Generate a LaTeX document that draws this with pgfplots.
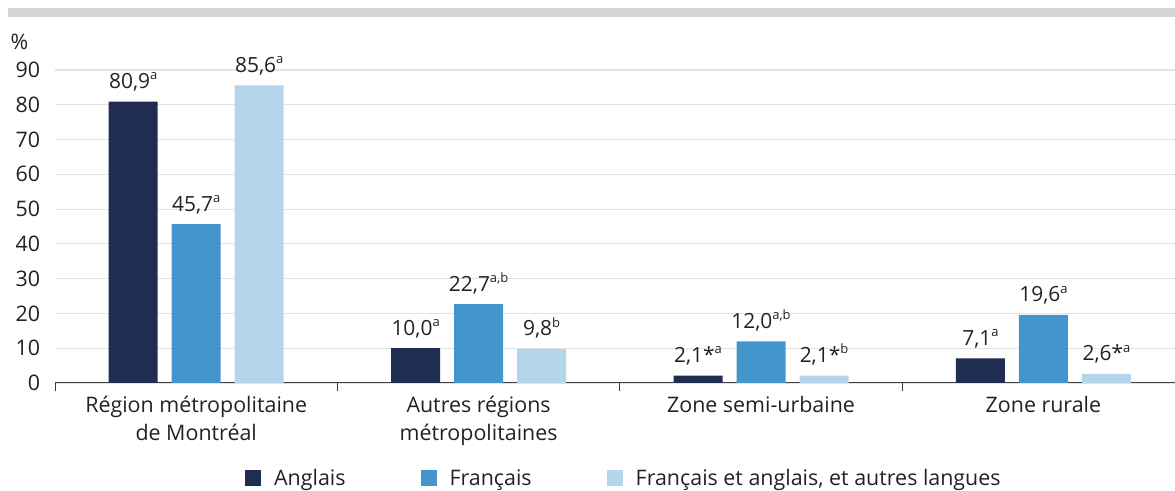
\documentclass[border=0pt]{standalone}
\usepackage{fontspec}
\setmainfont{Open Sans}
\usepackage{pgfplots}
\pgfplotsset{compat=1.18}
\definecolor{cA}{HTML}{1E2D50}
\definecolor{cB}{HTML}{4595CD}
\definecolor{cC}{HTML}{B4D5EA}
\definecolor{gridc}{HTML}{E3E3E3}
\definecolor{topbar}{HTML}{D4D5D5}
\definecolor{axisc}{HTML}{404040}
\definecolor{txt}{HTML}{222222}
\newcommand{\supx}[1]{\raisebox{0.42em}{\fontsize{13}{13}\selectfont #1}}
\newcommand{\fnt}{\fontsize{21.5}{28}\selectfont}
\newcommand{\vfnt}{\fontsize{21}{28}\selectfont}
\begin{document}
\begin{tikzpicture}[x=1bp,y=1bp]
\useasboundingbox (0,0) rectangle (1175,491);
\fill[topbar] (8,474) rectangle (1175,483);
\begin{axis}[
  at={(55bp,108bp)}, anchor=south west,
  scale only axis, width=1120bp, height=313bp,
  xmin=-0.5, xmax=3.466, ymin=0, ymax=90,
  ybar=14bp, bar width=49bp,
  axis x line*=bottom, axis y line*=left,
  x axis line style={-, draw=axisc, line width=1bp},
  y axis line style={draw=none},
  ytick={0,10,...,90},
  ytick style={draw=none},
  ymajorgrids, grid style={draw=gridc, line width=1.2bp},
  xtick={0,1,2,3},
  xticklabels={{Région métropolitaine\\de Montréal},{Autres régions\\métropolitaines},{Zone semi-urbaine},{Zone rurale}},
  major x tick style={draw=none},
  minor xtick={-0.5,0.5,1.5,2.5},
  minor x tick style={draw=axisc, line width=1bp},
  minor tick length=8bp, tick align=outside,
  xticklabel style={align=center, font=\fnt, text=txt, yshift=-5bp},
  yticklabel style={font=\fnt, text=txt, xshift=-7bp},
  /pgf/number format/assume math mode=true,
  point meta=explicit symbolic,
  nodes near coords,
  every node near coord/.append style={font=\vfnt, text=txt, anchor=base, yshift=13bp},
  legend columns=3,
  legend style={at={(0.1696,-0.3035)}, anchor=west, draw=none, fill=none, inner sep=0pt,
    font=\fnt, text=txt,
    /tikz/every even column/.append style={column sep=73bp},
    /tikz/every odd column/.append style={column sep=11bp}},
  legend image code/.code={\fill[#1] (0bp,-8bp) rectangle (16bp,8bp);},
]
\addplot[fill=cA, draw=none] coordinates {
  (0,80.9) [{80,9\supx{a}}]
  (1,10.0) [{10,0\supx{a}}]
  (2,2.1)  [{2,1*\supx{a}}]
  (3,7.1)  [{7,1\supx{a}}]
};
\addplot[fill=cB, draw=none] coordinates {
  (0,45.7) [{45,7\supx{a}}]
  (1,22.7) [{22,7\supx{a,b}}]
  (2,12.0) [{12,0\supx{a,b}}]
  (3,19.6) [{19,6\supx{a}}]
};
\addplot[fill=cC, draw=none] coordinates {
  (0,85.6) [{85,6\supx{a}}]
  (1,9.8)  [{9,8\supx{b}}]
  (2,2.1)  [{2,1*\supx{b}}]
  (3,2.6)  [{2,6*\supx{a}}]
};
\legend{Anglais, Français\hspace{4bp}, {Français et anglais, et autres langues}}
\end{axis}
\node[anchor=west, font=\fnt, text=txt] at (7,449) {\%};
\end{tikzpicture}
\end{document}
